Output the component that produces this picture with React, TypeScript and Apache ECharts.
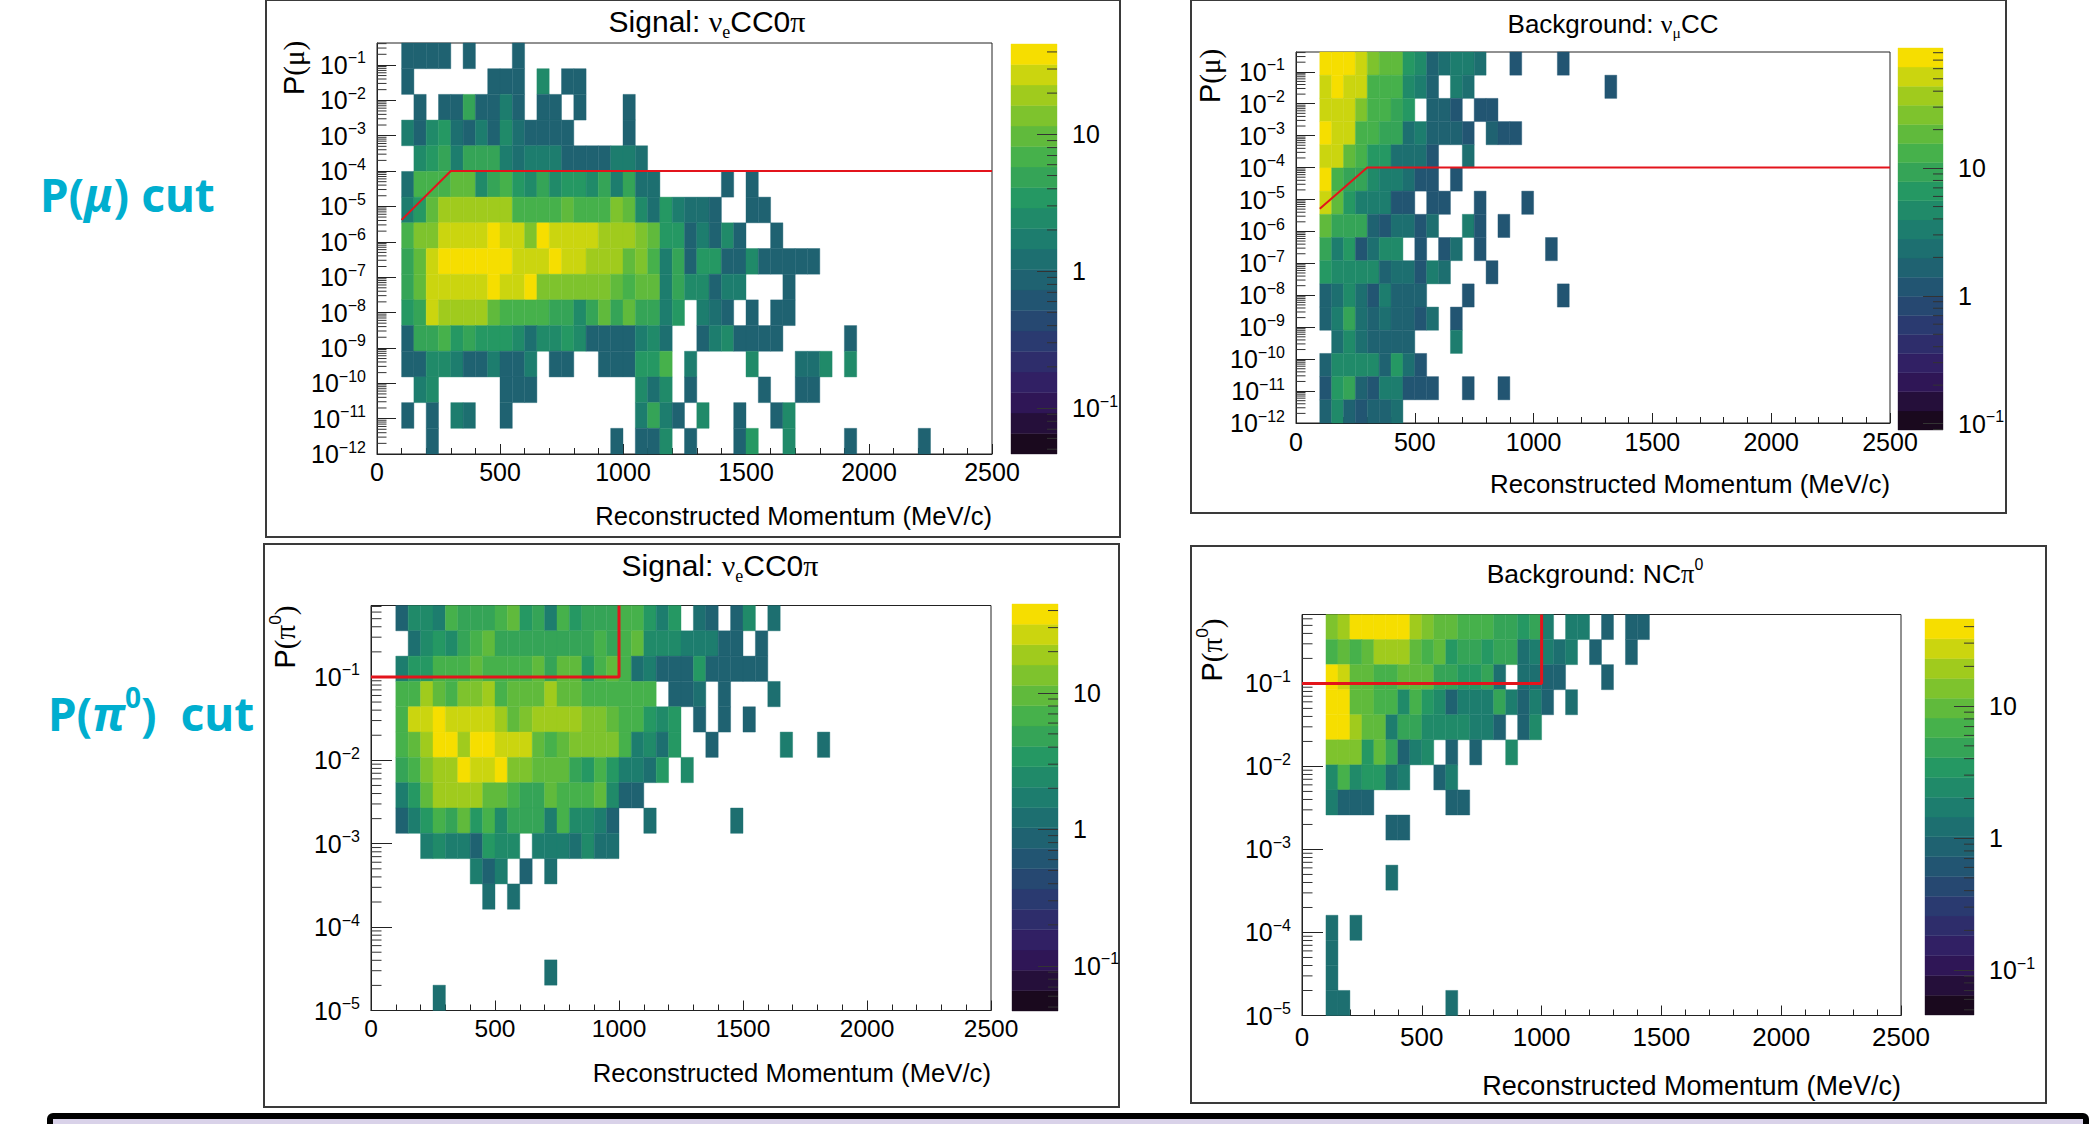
import React, { useEffect, useRef } from "react";
import * as echarts from "echarts";

const BIN_WIDTH = 50;
const FIRST_BIN = 100;
const X_TICKS_INTERVAL = 500;
const X_MAX = 2500;

const X_TITLE = "Reconstructed Momentum (MeV/c)";

// Rows run from the top of each plot to the bottom; columns start at 100 MeV/c, 50 MeV/c wide.
const signalMuCounts: number[][] = [
  [.9,.9,.9,.9,0,.9,0,0,0,.9],
  [.9,0,0,0,0,0,0,.9,.9,.9,0,2.5,0,.9,.9],
  [0,.9,0,.9,.9,5,.9,.9,1.8,.9,0,.9,.9,0,.9,0,0,0,.9],
  [1.8,.9,2.5,3.5,1.2,.9,1.8,.9,2.5,1.2,.9,.9,.9,.9,0,0,0,0,.9],
  [0,2.5,3.5,5,1.8,5,5,5,1.8,1.2,1.8,1.8,1.8,.9,.9,.9,.9,1.8,1.8,1.2],
  [1.2,7,7,7,10,10,2.5,5,7,3.5,2.5,5,2.5,3.5,3.5,2.5,5,1.8,5,1.2,1.2,0,0,0,0,0,.9,0,.9],
  [1.8,3.5,10,20,20,20,20,20,20,7,7,7,7,10,7,7,7,14,10,2.5,1.2,3.5,1.8,1.2,1.2,.9,0,0,.9,.9],
  [7,14,14,28,28,28,28,40,28,28,14,40,28,28,28,28,20,20,20,14,10,3.5,3.5,.9,1.8,.9,2.5,.9,0,0,.9],
  [5,10,28,40,40,40,40,40,40,28,28,28,40,28,28,20,20,20,10,14,7,1.8,5,.9,3.5,3.5,.9,.9,2.5,.9,.9,.9,.9,.9],
  [5,10,28,28,28,28,28,40,28,28,40,14,14,14,14,14,14,10,7,10,10,1.8,5,2.5,2.5,.9,1.8,1.8,0,0,0,.9],
  [3.5,5,28,20,20,20,20,10,7,7,7,7,5,5,2.5,5,10,5,10,5,5,1.8,3.5,0,1.8,1.2,.9,0,.9,0,.9,.9],
  [.9,5,5,7,3.5,5,3.5,3.5,3.5,2.5,1.2,2.5,2.5,3.5,2.5,.9,.9,.9,.9,1.8,2.5,1.2,0,0,.9,1.8,2.5,.9,.9,.9,.9,0,0,0,0,0,.9],
  [.9,.9,2.5,2.5,1.8,.9,.9,1.8,.9,.9,1.8,0,.9,.9,0,0,.9,.9,.9,3.5,3.5,7,0,1.8,0,0,0,0,2.5,0,0,0,1.2,1.2,2.5,0,2.5],
  [0,1.8,2.5,0,0,0,0,0,.9,.9,.9,0,0,0,0,0,0,0,0,2.5,1.2,2.5,0,.9,0,0,0,0,0,.9,0,0,.9,.9],
  [.9,0,.9,0,1.8,1.2,0,0,.9,0,0,0,0,0,0,0,0,0,0,1.8,5,1.8,.9,0,2.5,0,0,.9,0,0,.9,2.5],
  [0,0,.9,0,0,0,0,0,0,0,0,0,0,0,0,0,0,.9,0,.9,.9,2.5,0,.9,0,0,0,.9,3.5,0,0,2.5,0,0,0,0,.9,0,0,0,0,0,.9],
];

const backgroundMuCounts: number[][] = [
  [75,75,75,54,27,19,19,6.8,4.8,1.7,2.4,3.4,3.4,2.4,0,0,1.2,0,0,0,1.2],
  [54,75,54,54,13.5,13.5,13.5,4.8,3.4,1.7,0,3.4,2.4,0,0,0,0,0,0,0,0,0,0,0,1.2],
  [54,54,54,27,13.5,13.5,9.5,6.8,0,1.7,1.7,1.2,0,1.2,1.2],
  [75,54,54,13.5,13.5,9.5,9.5,2.4,3.4,1.7,1.7,1.7,1.2,0,1.7,1.2,1.2],
  [54,54,19,13.5,6.8,6.8,2.4,2.4,2.4,1.2,0,0,2.4],
  [75,13.5,9.5,9.5,4.8,3.4,3.4,2.4,1.2,1.2,0,1.2],
  [54,19,6.8,3.4,3.4,3.4,1.2,1.2,0,1.2,1.2,0,0,1.2,0,0,0,1.2],
  [19,9.5,9.5,9.5,1.7,1.2,2.4,2.4,1.2,2.4,0,0,3.4,1.2,0,1.2],
  [9.5,3.4,6.8,1.2,2.4,4.8,4.8,0,1.2,0,1.2,2.4,0,1.2,0,0,0,0,0,1.2],
  [6.8,4.8,4.8,4.8,4.8,1.7,2.4,2.4,1.2,3.4,2.4,0,0,0,1.2],
  [1.7,2.4,4.8,2.4,1.2,3.4,1.7,1.7,1.7,0,0,0,1.2,0,0,0,0,0,0,0,1.2],
  [1.7,3.4,9.5,2.4,1.7,2.4,1.7,1.7,1.2,2.4,0,1.2],
  [0,2.4,4.8,2.4,1.7,1.7,1.7,1.7,0,0,0,3.4],
  [1.7,4.8,4.8,4.8,4.8,1.7,6.8,2.4,1.2],
  [1.2,6.8,9.5,1.7,1.2,3.4,3.4,1.2,1.2,1.2,0,0,1.2,0,0,1.2],
  [1.7,4.8,1.7,1.2,1.7,1.7,2.4],
];

const signalPiCounts: number[][] = [
  [.9,2.5,2.5,1.8,7,5,5,5,7,10,3.5,5,1.8,7,3.5,5,5,5,7,7,3.5,1.8,3.5,0,1.2,.9,0,.9,2.5,0,1.2],
  [0,1.2,2.5,3.5,2.5,5,7,10,5,5,5,5,5,5,5,5,7,5,7,10,2.5,2.5,2.5,1.8,1.8,1.8,.9,.9,0,.9],
  [1.8,3.5,3.5,7,7,7,10,7,7,7,7,10,5,10,10,3.5,7,10,7,1.2,1.8,.9,.9,.9,3.5,.9,.9,.9,.9,.9],
  [7,7,20,10,7,14,14,20,7,10,10,10,20,10,10,7,7,7,7,7,7,0,.9,.9,1.2,0,.9,0,0,0,1.2],
  [7,28,28,40,28,28,28,28,20,10,14,20,20,20,20,14,14,10,7,7,3.5,2.5,3.5,0,.9,0,.9,0,.9],
  [7,10,20,40,40,20,40,40,28,28,28,10,7,10,14,14,14,14,7,1.8,2.5,1.2,3.5,0,0,.9,0,0,0,0,0,1.8,0,0,1.2],
  [5,7,14,20,20,40,28,28,40,14,14,10,10,10,5,3.5,7,3.5,1.8,1.8,1.2,3.5,0,2.5],
  [1.8,3.5,10,20,20,20,20,10,10,7,5,5,10,7,7,7,10,2.5,.9,.9],
  [.9,1.8,3.5,7,5,10,3.5,7,2.5,5,5,5,1.8,7,2.5,2.5,1.8,.9,0,0,1.2,0,0,0,0,0,0,1.2],
  [0,0,1.8,2.5,1.8,1.8,.9,3.5,2.5,2.5,0,1.8,1.8,1.8,1.2,2.5,1.2,1.2],
  [0,0,0,0,0,0,1.8,.9,1.8,0,.9,0,1.2],
  [0,0,0,0,0,0,0,1.2,0,1.2],
  [],
  [],
  [0,0,0,0,0,0,0,0,0,0,0,0,1.2],
  [0,0,0,1.2],
];

const backgroundPiCounts: number[][] = [
  [14,20,40,40,40,40,40,20,14,10,10,7,7,7,5,5,3.5,5,1.8,0,1.8,1.8,0,.9,0,.9,.9],
  [7,10,7,10,20,20,20,10,7,10,3.5,5,5,3.5,5,5,1.2,1.8,1.8,1.2,1.8,0,.9,0,0,.9],
  [40,28,10,10,7,7,10,10,10,5,5,3.5,3.5,5,1.2,0,1.2,1.2,.9,.9,0,0,0,.9],
  [40,40,10,10,7,7,2.5,7,3.5,2.5,.9,1.8,1.8,1.8,5,1.8,.9,1.8,.9,0,1.2],
  [40,40,20,10,10,1.8,5,5,2.5,2.5,2.5,2.5,1.8,1.8,.9,0,.9,2.5],
  [14,14,14,3.5,10,5,.9,1.8,2.5,0,.9,0,.9,0,0,2.5],
  [2.5,7,2.5,3.5,3.5,1.2,1.8,0,0,.9,1.8],
  [1.8,.9,.9,.9,0,0,0,0,0,0,.9,.9],
  [0,0,0,0,0,.9,.9],
  [],
  [0,0,0,0,0,1.2],
  [],
  [1.2,0,1.2],
  [1.2],
  [1.2],
  [1.2,1.2,0,0,0,0,0,0,0,0,1.2],
];

// Cut lines, [momentum, log10 probability]
const muCutSignal: number[][] = [[100, -5.38], [300, -4], [2500, -4]];
const muCutBackground: number[][] = [[100, -5.29], [300, -4], [2500, -4]];
const piCutSignal: number[][] = [[0, -1], [1000, -1], [1000, -0.143]];
const piCutBackground: number[][] = [[0, -1], [1000, -1], [1000, -0.17]];

const muExponents = [-12, -11, -10, -9, -8, -7, -6, -5, -4, -3, -2, -1];
const piExponents = [-5, -4, -3, -2, -1];
const barExponents = [-1, 0, 1];

const VIRIDIS_STOPS = [
  [26, 9, 30], [51, 24, 96], [43, 55, 112], [33, 87, 114], [28, 118, 112],
  [35, 150, 101], [74, 180, 72], [144, 200, 35], [246, 222, 0],
];
const BAND_COUNT = 20;
const bandColors: string[] = Array.from({ length: BAND_COUNT }, (_, i) => {
  const t = (i / (BAND_COUNT - 1)) * (VIRIDIS_STOPS.length - 1);
  const j = Math.min(Math.floor(t), VIRIDIS_STOPS.length - 2);
  const f = t - j;
  const c = VIRIDIS_STOPS[j].map((v, n) => Math.round(v + (VIRIDIS_STOPS[j + 1][n] - v) * f));
  return `rgb(${c[0]},${c[1]},${c[2]})`;
});

const FONT = "Liberation Sans";
const GREEK = "Liberation Serif";

type Box = [number, number, number, number];
interface Panel {
  frame: Box; plot: Box; bar: Box;
  yMin: number; yMax: number; exps: number[];
  barMin: number; barMax: number;
  counts: number[][]; cut: number[][];
  title: string; titleX: number; titleY: number; titleSize: number;
  yName: string; yNameX: number; yNameY: number;
  xNameY: number; xNameSize: number; tickLen: number; cutWidth: number;
  xLabelSize: number; xLabelMargin: number;
}

const panels: Panel[] = [
  {
    frame: [266, 0, 1120, 537], plot: [377, 43, 992, 454], bar: [1011, 44, 1057, 454],
    yMin: -12, yMax: -0.38, exps: muExponents, barMin: -1.336, barMax: 1.66,
    counts: signalMuCounts, cut: muCutSignal,
    title: "{a|Signal: }{g|ν}{s|e}{a|CC0}{g|π}", titleX: 707, titleY: 21, titleSize: 30,
    yName: "{a|P}{g|(μ)}", yNameX: 294, yNameY: 68, xNameY: 516, xNameSize: 25.6, tickLen: 19, cutWidth: 2,
    xLabelSize: 25, xLabelMargin: 5,
  },
  {
    frame: [1191, 0, 2006, 513], plot: [1296, 52, 1890, 423], bar: [1898, 48, 1943, 430],
    yMin: -12, yMax: -0.38, exps: muExponents, barMin: -1.05, barMax: 1.94,
    counts: backgroundMuCounts, cut: muCutBackground,
    title: "{a|Background: }{g|ν}{s|μ}{a|CC}", titleX: 1613, titleY: 24, titleSize: 26,
    yName: "{a|P}{g|(μ)}", yNameX: 1210, yNameY: 76, xNameY: 484, xNameSize: 25.8, tickLen: 19, cutWidth: 2,
    xLabelSize: 25, xLabelMargin: 6,
  },
  {
    frame: [264, 544, 1119, 1107], plot: [371, 605.5, 991, 1010.5], bar: [1012, 604, 1058, 1011],
    yMin: -5, yMax: -0.143, exps: piExponents, barMin: -1.33, barMax: 1.65,
    counts: signalPiCounts, cut: piCutSignal,
    title: "{a|Signal: }{g|ν}{s|e}{a|CC0}{g|π}", titleX: 720, titleY: 565, titleSize: 30,
    yName: "{a|P}{g|(π}{u|0}{g|)}", yNameX: 285, yNameY: 637, xNameY: 1073, xNameSize: 25.7, tickLen: 21, cutWidth: 3,
    xLabelSize: 24.5, xLabelMargin: 5,
  },
  {
    frame: [1191, 546, 2046, 1103], plot: [1302, 614.5, 1901, 1015.5], bar: [1925, 619, 1974, 1015],
    yMin: -5, yMax: -0.17, exps: piExponents, barMin: -1.34, barMax: 1.66,
    counts: backgroundPiCounts, cut: piCutBackground,
    title: "{a|Background: NC}{g|π}{u|0}", titleX: 1595, titleY: 574, titleSize: 26.5,
    yName: "{a|P}{g|(π}{u|0}{g|)}", yNameX: 1212, yNameY: 650, xNameY: 1086, xNameSize: 27, tickLen: 21, cutWidth: 3,
    xLabelSize: 26, xLabelMargin: 8,
  },
];

const MINOR_MULTIPLES = [2, 3, 4, 5, 6, 7, 8, 9];

function minorTickValues(lo: number, hi: number): number[][] {
  const out: number[][] = [];
  for (let n = Math.floor(lo) - 1; n <= Math.ceil(hi); n++) {
    for (const m of MINOR_MULTIPLES) {
      const v = n + Math.log10(m);
      if (v > lo && v < hi) out.push([v]);
    }
  }
  return out;
}

const powerLabel = (v: number) => {
  if (v === 0) return "{b|1}";
  if (v === 1) return "{b|10}";
  return `{b|10}{s|${String(v).replace("-", "−")}}`;
};

const labelRich = {
  b: { fontSize: 25, fontFamily: FONT, color: "#000" },
  s: { fontSize: 16, fontFamily: FONT, color: "#000", verticalAlign: "top", lineHeight: 30 },
};

const textRich = (size: number) => ({
  a: { fontSize: size, fontFamily: FONT, fill: "#000" },
  g: { fontSize: size, fontFamily: GREEK, fill: "#000" },
  s: { fontSize: size * 0.6, fontFamily: GREEK, fill: "#000", verticalAlign: "bottom", lineHeight: size * 1.3 },
  u: { fontSize: size * 0.6, fontFamily: FONT, fill: "#000", verticalAlign: "top", lineHeight: size * 1.3 },
});

const rectItem = (lo: number, hi: number) => (_: any, api: any) => {
  const a = api.coord([api.value(0), api.value(3)]);
  const b = api.coord([api.value(1), api.value(2)]);
  const band = Math.max(0, Math.min(BAND_COUNT - 1, Math.floor(((Math.log10(api.value(4)) - lo) / (hi - lo)) * BAND_COUNT)));
  const fill = bandColors[band];
  return {
    type: "rect",
    shape: { x: a[0], y: a[1], width: b[0] - a[0], height: b[1] - a[1] },
    style: { fill, stroke: fill, lineWidth: 0.4 },
  };
};

function buildOption() {
  const grid: any[] = [];
  const xAxis: any[] = [];
  const yAxis: any[] = [];
  const series: any[] = [];

  panels.forEach((p, i) => {
    const gi = i * 2;
    const bi = gi + 1;
    const [pl, pt, pr, pb] = p.plot;
    const [bl, bt, br, bb] = p.bar;
    grid.push({
      left: pl, top: pt, width: pr - pl, height: pb - pt, show: true,
      borderColor: "#222", borderWidth: 1, backgroundColor: "transparent",
    });
    grid.push({ left: bl, top: bt, width: br - bl, height: bb - bt, show: false });

    xAxis.push({
      type: "value", gridIndex: gi, min: 0, max: X_MAX, interval: X_TICKS_INTERVAL,
      axisLine: { show: true, onZero: false, lineStyle: { color: "#222", width: 1 } },
      axisTick: { show: true, inside: true, length: 10, lineStyle: { color: "#222", width: 1 } },
      minorTick: { show: true, splitNumber: 5, length: 6, lineStyle: { color: "#222", width: 1 } },
      splitLine: { show: false }, minorSplitLine: { show: false },
      axisLabel: { color: "#000", fontSize: p.xLabelSize, fontFamily: FONT, margin: p.xLabelMargin, formatter: (v: number) => String(v), hideOverlap: false, showMinLabel: true, showMaxLabel: true },
    });
    yAxis.push({
      type: "value", gridIndex: gi, min: p.yMin, max: p.yMax,
      axisLine: { show: true, onZero: false, lineStyle: { color: "#222", width: 1 } },
      axisTick: { show: true, inside: true, length: p.tickLen, customValues: p.exps, lineStyle: { color: "#222", width: 1 } },
      splitLine: { show: false },
      axisLabel: { customValues: p.exps, margin: 11, formatter: powerLabel, rich: labelRich, hideOverlap: false },
    });
    xAxis.push({ type: "value", gridIndex: bi, min: 0, max: 1, show: false });
    yAxis.push({
      type: "value", gridIndex: bi, position: "right", min: p.barMin, max: p.barMax, z: 6,
      axisLine: { show: false, onZero: false },
      axisTick: { show: true, inside: true, length: 20, customValues: barExponents, lineStyle: { color: "#333", width: 1 } },
      splitLine: { show: false },
      axisLabel: { customValues: barExponents, margin: 15, formatter: powerLabel, rich: labelRich, hideOverlap: false },
    });

    const rowH = (p.yMax - p.yMin) / p.counts.length;
    const cells: number[][] = [];
    p.counts.forEach((row, r) => {
      row.forEach((v, c) => {
        if (v > 0) {
          const x0 = FIRST_BIN + c * BIN_WIDTH;
          cells.push([x0, x0 + BIN_WIDTH, p.yMax - (r + 1) * rowH, p.yMax - r * rowH, v]);
        }
      });
    });
    series.push({
      type: "custom", xAxisIndex: gi, yAxisIndex: gi, data: cells, silent: true, z: 1,
      encode: { x: [0, 1], y: [2, 3] }, renderItem: rectItem(p.barMin, p.barMax),
    });
    const minorLen = p.tickLen / 2;
    series.push({
      type: "custom", xAxisIndex: gi, yAxisIndex: gi, data: minorTickValues(p.yMin, p.yMax), silent: true, z: 2,
      encode: { y: 0 },
      renderItem: (_: any, api: any) => {
        const a = api.coord([0, api.value(0)]);
        return {
          type: "line",
          shape: { x1: a[0], y1: a[1], x2: a[0] + minorLen, y2: a[1] },
          style: { stroke: "#333", lineWidth: 1 },
        };
      },
    });
    series.push({
      type: "line", xAxisIndex: gi, yAxisIndex: gi, data: p.cut, showSymbol: false, silent: true, z: 5,
      lineStyle: { color: "#e3141c", width: p.cutWidth }, clip: false,
    });

    const step = (p.barMax - p.barMin) / BAND_COUNT;
    const bandCells = bandColors.map((_, k) => {
      const y0 = p.barMin + k * step;
      return [0, 1, y0, y0 + step, Math.pow(10, y0 + step / 2)];
    });
    series.push({
      type: "custom", xAxisIndex: bi, yAxisIndex: bi, data: bandCells, silent: true, z: 1,
      encode: { x: [0, 1], y: [2, 3] }, renderItem: rectItem(p.barMin, p.barMax),
    });
    series.push({
      type: "custom", xAxisIndex: bi, yAxisIndex: bi, data: minorTickValues(p.barMin, p.barMax), silent: true, z: 2,
      encode: { y: 0 },
      renderItem: (_: any, api: any) => {
        const a = api.coord([1, api.value(0)]);
        return {
          type: "line",
          shape: { x1: a[0], y1: a[1], x2: a[0] - 10, y2: a[1] },
          style: { stroke: "#333", lineWidth: 1 },
        };
      },
    });
  });

  const graphic: any[] = [];
  panels.forEach((p) => {
    const [l, t, r, b] = p.frame;
    graphic.push({ type: "rect", shape: { x: l, y: t, width: r - l, height: b - t }, style: { fill: "none", stroke: "#3a3a3a", lineWidth: 2 }, silent: true });
    graphic.push({
      type: "text", x: p.titleX, y: p.titleY, silent: true,
      style: { text: p.title, rich: textRich(p.titleSize), align: "center", verticalAlign: "middle" },
    });
    graphic.push({
      type: "text", x: p.yNameX, y: p.yNameY, rotation: Math.PI / 2, silent: true,
      style: { text: p.yName, rich: textRich(29), align: "center", verticalAlign: "middle" },
    });
    graphic.push({
      type: "text", x: p.plot[2], y: p.xNameY, silent: true,
      style: { text: X_TITLE, fontSize: p.xNameSize, fontFamily: FONT, fill: "#000", align: "right", verticalAlign: "middle" },
    });
  });

  const CUT_FONT = "Noto Sans";
  const TEAL = "#00aecf";
  const cutRich = {
    a: { fontSize: 46, fontFamily: CUT_FONT, fontWeight: "bold", fill: TEAL },
    i: { fontSize: 46, fontFamily: CUT_FONT, fontWeight: "bold", fontStyle: "italic", fill: TEAL },
    u: { fontSize: 28, fontFamily: CUT_FONT, fontWeight: "bold", fill: TEAL, verticalAlign: "top", lineHeight: 60 },
  };
  graphic.push({ type: "text", x: 40, y: 194, silent: true, style: { text: "{a|P(}{i|μ}{a|) cut}", rich: cutRich, align: "left", verticalAlign: "middle" } });
  graphic.push({ type: "text", x: 48, y: 713, silent: true, style: { text: "{a|P(}{i|π}{u|0}{a|)  cut}", rich: cutRich, align: "left", verticalAlign: "middle" } });
  graphic.push({
    type: "rect", shape: { x: 50, y: 1116, width: 2036, height: 40, r: 3 },
    style: { fill: "#d9d2e9", stroke: "#000", lineWidth: 6 }, silent: true,
  });

  return { animation: false, backgroundColor: "#fff", grid, xAxis, yAxis, series, graphic };
}

export default function App() {
  const ref = useRef<HTMLDivElement>(null);
  useEffect(() => {
    if (!ref.current) return;
    const chart = echarts.init(ref.current, undefined, { renderer: "svg" });
    chart.setOption(buildOption());
    return () => chart.dispose();
  }, []);
  return <div ref={ref} style={{ position: "absolute", left: 0, top: 0, width: 2099, height: 1124 }} />;
}
